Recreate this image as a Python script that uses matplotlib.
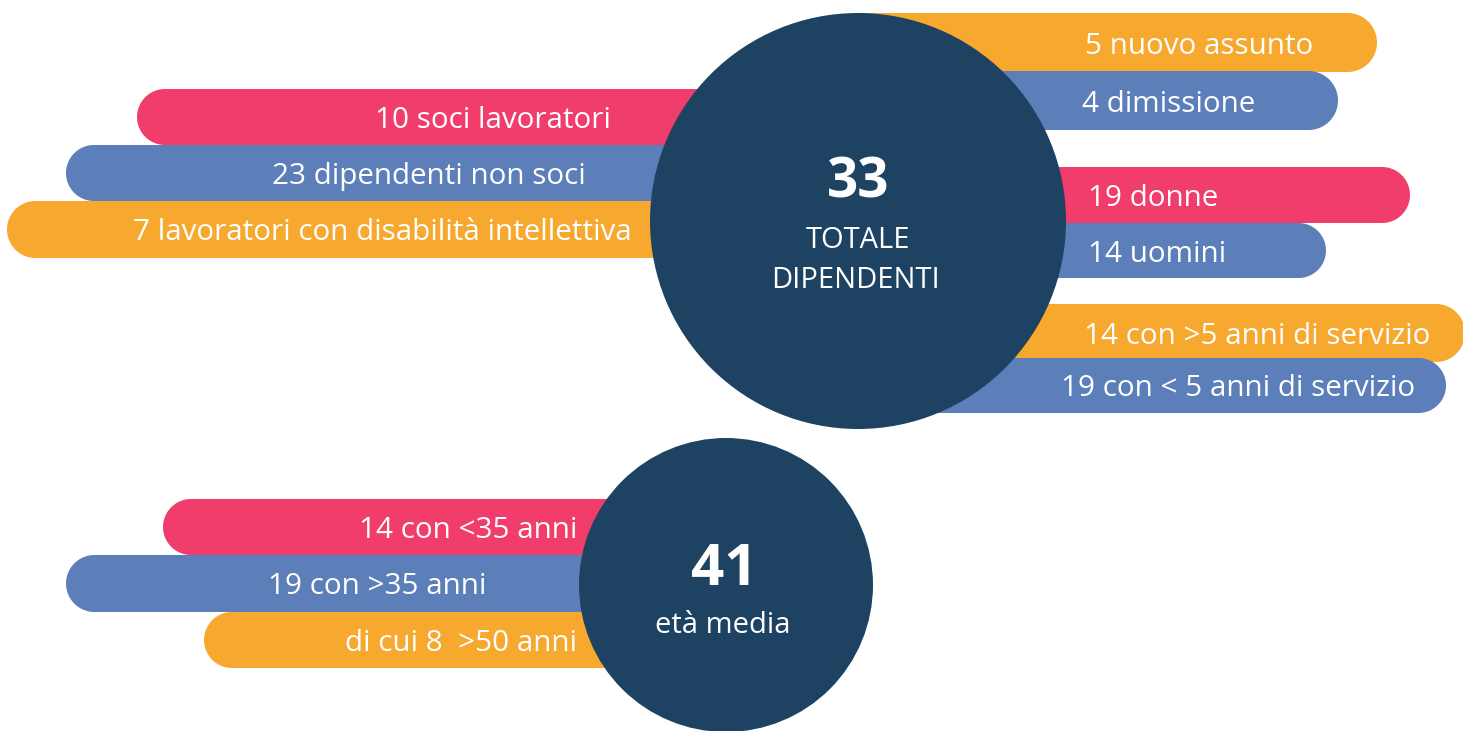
import matplotlib
matplotlib.use("Agg")
import matplotlib.pyplot as plt
from matplotlib.patches import Polygon, Circle
import numpy as np

# ---- data ----
total_value = "33"
total_label = ["TOTALE", "DIPENDENTI"]
age_value = "41"
age_label = "età media"

left_top_labels = ["10 soci lavoratori", "23 dipendenti non soci",
                   "7 lavoratori con disabilità intellettiva"]
right_labels = ["5 nuovo assunto", "4 dimissione", "19 donne", "14 uomini",
                "14 con >5 anni di servizio", "19 con < 5 anni di servizio"]
left_bottom_labels = ["14 con <35 anni", "19 con >35 anni", "di cui 8  >50 anni"]

# ---- styles / layout ----
PINK = "#F03D6C"
BLUE = "#5C7FBA"
ORANGE = "#F7A82E"
NAVY = "#1D4262"
FONT = "Open Sans"
LFS = 21.3

W, H = 1463, 731
fig = plt.figure(figsize=(W / 100, H / 100), dpi=100)
ax = fig.add_axes([0, 0, 1, 1])
ax.set_xlim(0, W)
ax.set_ylim(H, 0)
ax.axis("off")


def pill(x_flat, x_round, yc, h, color):
    r = h / 2
    if x_round < x_flat:  # rounded end on the left
        cx = x_round + r
        t = np.linspace(np.pi / 2, 3 * np.pi / 2, 60)
    else:
        cx = x_round - r
        t = np.linspace(np.pi / 2, -np.pi / 2, 60)
    arc = np.column_stack([cx + r * np.cos(t), yc - r * np.sin(t)])
    pts = [(x_flat, yc - r)] + [tuple(p) for p in arc] + [(x_flat, yc + r)]
    ax.add_patch(Polygon(pts, closed=True, facecolor=color, edgecolor="none", zorder=1))


def label(x, yc, s, ha):
    ax.text(x, yc + 11, s, ha=ha, va="baseline", color="white", fontsize=LFS,
            family=FONT, zorder=3)


# left top bars: (outer x, y centre, height, colour, text right x)
lt_layout = [(137, 117, 56, PINK, 611), (66, 173, 56, BLUE, 586), (7, 229.5, 57, ORANGE, 632)]
for lab, (xo, yc, h, c, tx) in zip(left_top_labels, lt_layout):
    pill(820, xo, yc, h, c)
    label(tx, yc, lab, "right")

# right bars
r_layout = [(1377, 42.5, 59, ORANGE, 1085), (1338, 100.5, 59, BLUE, 1082),
            (1410, 195, 56, PINK, 1088), (1326, 250.5, 55, BLUE, 1088),
            (1465, 333, 58, ORANGE, 1084), (1446, 385.5, 55, BLUE, 1061)]
for lab, (xo, yc, h, c, tx) in zip(right_labels, r_layout):
    pill(860, xo, yc, h, c)
    label(tx, yc, lab, "left")

# left bottom bars
lb_layout = [(163, 527, 56, PINK, 577), (66, 583.5, 57, BLUE, 486), (204, 640, 56, ORANGE, 577)]
for lab, (xo, yc, h, c, tx) in zip(left_bottom_labels, lb_layout):
    pill(726, xo, yc, h, c)
    label(tx, yc, lab, "right")

# circles
ax.add_patch(Circle((858, 221), 208, facecolor=NAVY, edgecolor="none", zorder=2))
ax.add_patch(Circle((726, 585), 147, facecolor=NAVY, edgecolor="none", zorder=2))

ax.text(858, 198, total_value, ha="center", va="baseline", color="white", fontsize=39.5,
        fontweight="bold", family=FONT, zorder=3)
ax.text(858, 248, total_label[0], ha="center", va="baseline", color="white", fontsize=21,
        family=FONT, zorder=3)
ax.text(856, 288, total_label[1], ha="center", va="baseline", color="white", fontsize=21,
        family=FONT, zorder=3)
ax.text(724, 585, age_value, ha="center", va="baseline", color="white", fontsize=42,
        fontweight="bold", family=FONT, zorder=3)
ax.text(723, 633, age_label, ha="center", va="baseline", color="white", fontsize=21,
        family=FONT, zorder=3)

fig.savefig("out.png", dpi=100, facecolor="white")
